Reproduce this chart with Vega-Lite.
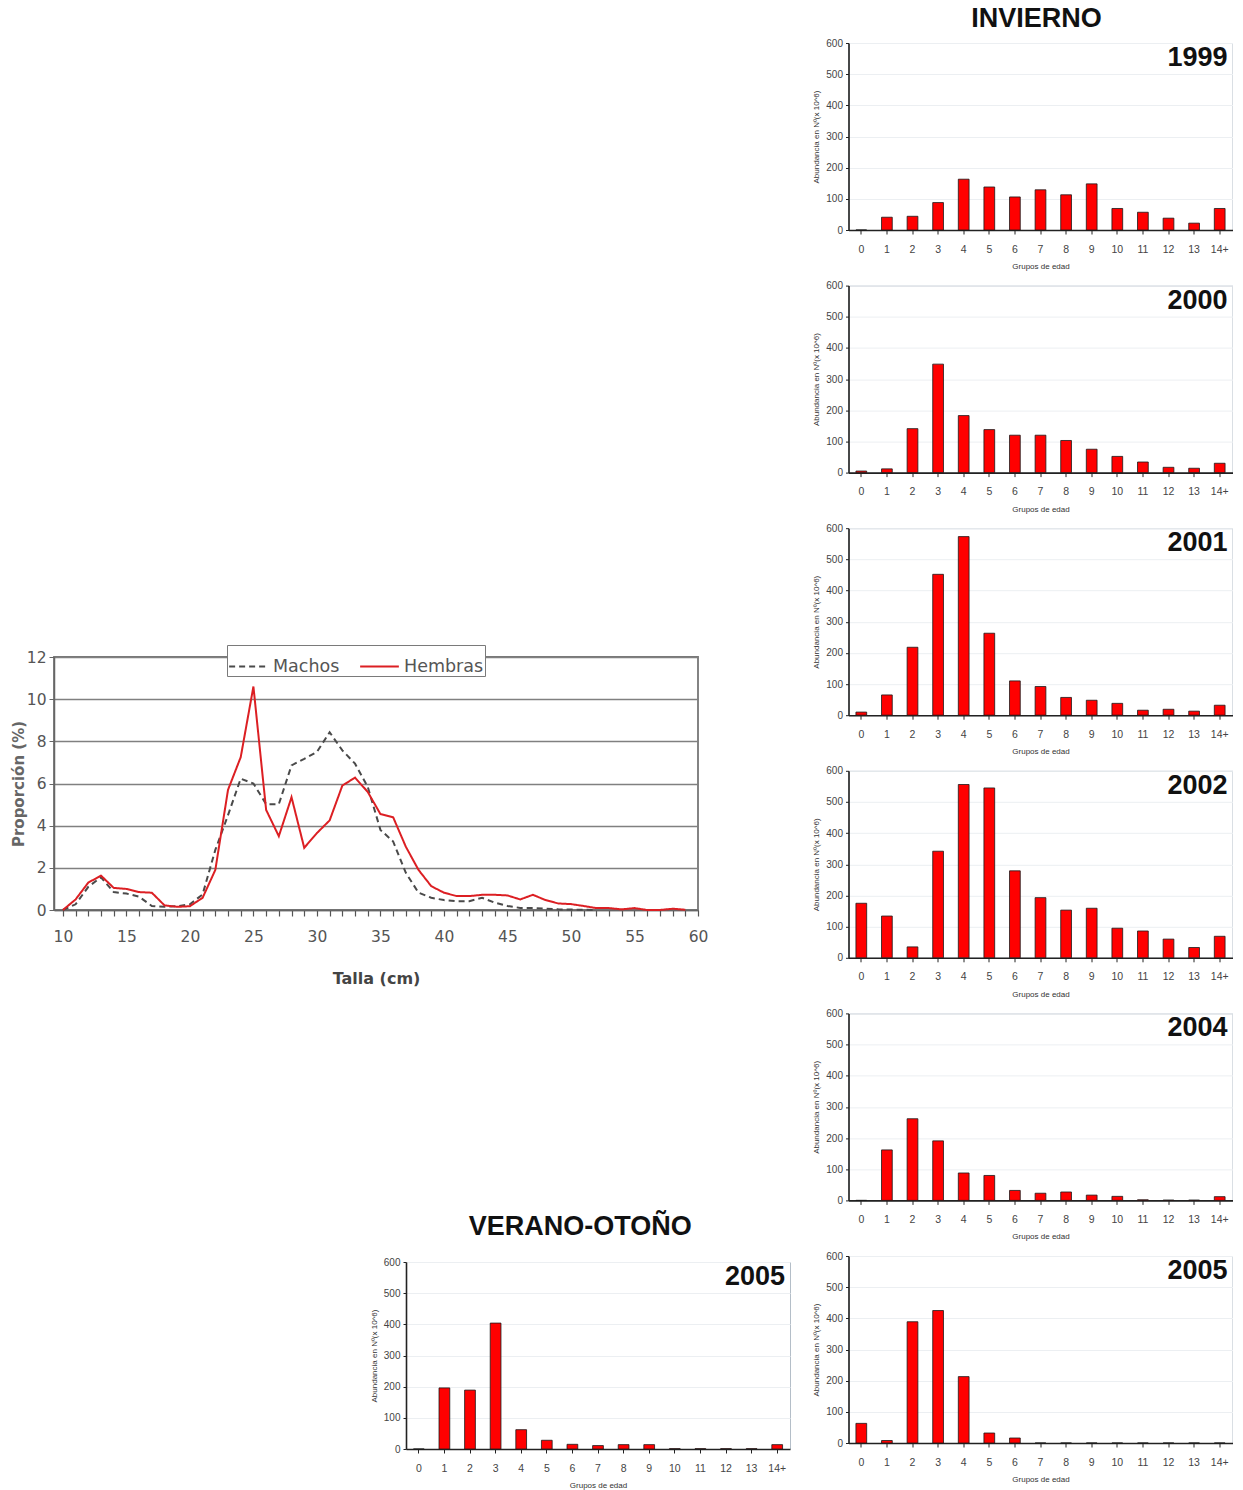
{
  "$schema": "https://vega.github.io/schema/vega-lite/v6.json",
  "background": "white",
  "padding": {"left": 10, "top": 4, "right": 0, "bottom": 0},
  "config": {
    "font": "Liberation Sans",
    "view": {"stroke": "#b4bec8", "strokeWidth": 1},
    "axisY": {"labelFontSize": 10, "labelColor": "#444", "labelOverlap": false, "titleFontSize": 8, "titleFontWeight": "normal", "titleColor": "#333", "grid": true, "gridColor": "#eceff2", "domainColor": "#222", "domainWidth": 1.6, "tickColor": "#222", "tickSize": 3, "labelPadding": 3, "titlePadding": 5},
    "axisX": {"labelFontSize": 10.5, "labelColor": "#444", "labelAngle": 0, "titleFontSize": 8, "titleFontWeight": "normal", "titleColor": "#333", "grid": false, "domainColor": "#222", "domainWidth": 1.6, "tickColor": "#222", "tickSize": 4, "labelPadding": 10, "titlePadding": 8}
  },
  "datasets": {
    "tallas": [
      {"talla": 10, "sexo": "Machos", "p": 0}, {"talla": 11, "sexo": "Machos", "p": 0.27}, {"talla": 12, "sexo": "Machos", "p": 1.1}, {"talla": 13, "sexo": "Machos", "p": 1.55}, {"talla": 14, "sexo": "Machos", "p": 0.85}, {"talla": 15, "sexo": "Machos", "p": 0.78}, {"talla": 16, "sexo": "Machos", "p": 0.63}, {"talla": 17, "sexo": "Machos", "p": 0.19}, {"talla": 18, "sexo": "Machos", "p": 0.15}, {"talla": 19, "sexo": "Machos", "p": 0.18}, {"talla": 20, "sexo": "Machos", "p": 0.27}, {"talla": 21, "sexo": "Machos", "p": 0.74}, {"talla": 22, "sexo": "Machos", "p": 2.85}, {"talla": 23, "sexo": "Machos", "p": 4.5}, {"talla": 24, "sexo": "Machos", "p": 6.23}, {"talla": 25, "sexo": "Machos", "p": 6.0}, {"talla": 26, "sexo": "Machos", "p": 5.02}, {"talla": 27, "sexo": "Machos", "p": 5.02}, {"talla": 28, "sexo": "Machos", "p": 6.86}, {"talla": 29, "sexo": "Machos", "p": 7.17}, {"talla": 30, "sexo": "Machos", "p": 7.5}, {"talla": 31, "sexo": "Machos", "p": 8.43}, {"talla": 32, "sexo": "Machos", "p": 7.57}, {"talla": 33, "sexo": "Machos", "p": 6.94}, {"talla": 34, "sexo": "Machos", "p": 5.84}, {"talla": 35, "sexo": "Machos", "p": 3.8}, {"talla": 36, "sexo": "Machos", "p": 3.25}, {"talla": 37, "sexo": "Machos", "p": 1.76}, {"talla": 38, "sexo": "Machos", "p": 0.82}, {"talla": 39, "sexo": "Machos", "p": 0.58}, {"talla": 40, "sexo": "Machos", "p": 0.47}, {"talla": 41, "sexo": "Machos", "p": 0.42}, {"talla": 42, "sexo": "Machos", "p": 0.42}, {"talla": 43, "sexo": "Machos", "p": 0.58}, {"talla": 44, "sexo": "Machos", "p": 0.35}, {"talla": 45, "sexo": "Machos", "p": 0.19}, {"talla": 46, "sexo": "Machos", "p": 0.1}, {"talla": 47, "sexo": "Machos", "p": 0.1}, {"talla": 48, "sexo": "Machos", "p": 0.06}, {"talla": 49, "sexo": "Machos", "p": 0.03}, {"talla": 50, "sexo": "Machos", "p": 0.02}, {"talla": 51, "sexo": "Machos", "p": 0.01}, {"talla": 52, "sexo": "Machos", "p": 0},
      {"talla": 10, "sexo": "Hembras", "p": 0}, {"talla": 11, "sexo": "Hembras", "p": 0.5}, {"talla": 12, "sexo": "Hembras", "p": 1.3}, {"talla": 13, "sexo": "Hembras", "p": 1.63}, {"talla": 14, "sexo": "Hembras", "p": 1.05}, {"talla": 15, "sexo": "Hembras", "p": 1.0}, {"talla": 16, "sexo": "Hembras", "p": 0.85}, {"talla": 17, "sexo": "Hembras", "p": 0.82}, {"talla": 18, "sexo": "Hembras", "p": 0.22}, {"talla": 19, "sexo": "Hembras", "p": 0.15}, {"talla": 20, "sexo": "Hembras", "p": 0.18}, {"talla": 21, "sexo": "Hembras", "p": 0.58}, {"talla": 22, "sexo": "Hembras", "p": 1.9}, {"talla": 23, "sexo": "Hembras", "p": 5.7}, {"talla": 24, "sexo": "Hembras", "p": 7.25}, {"talla": 25, "sexo": "Hembras", "p": 10.6}, {"talla": 26, "sexo": "Hembras", "p": 4.75}, {"talla": 27, "sexo": "Hembras", "p": 3.5}, {"talla": 28, "sexo": "Hembras", "p": 5.35}, {"talla": 29, "sexo": "Hembras", "p": 2.95}, {"talla": 30, "sexo": "Hembras", "p": 3.65}, {"talla": 31, "sexo": "Hembras", "p": 4.25}, {"talla": 32, "sexo": "Hembras", "p": 5.9}, {"talla": 33, "sexo": "Hembras", "p": 6.28}, {"talla": 34, "sexo": "Hembras", "p": 5.6}, {"talla": 35, "sexo": "Hembras", "p": 4.55}, {"talla": 36, "sexo": "Hembras", "p": 4.4}, {"talla": 37, "sexo": "Hembras", "p": 3.0}, {"talla": 38, "sexo": "Hembras", "p": 1.9}, {"talla": 39, "sexo": "Hembras", "p": 1.13}, {"talla": 40, "sexo": "Hembras", "p": 0.82}, {"talla": 41, "sexo": "Hembras", "p": 0.66}, {"talla": 42, "sexo": "Hembras", "p": 0.66}, {"talla": 43, "sexo": "Hembras", "p": 0.72}, {"talla": 44, "sexo": "Hembras", "p": 0.72}, {"talla": 45, "sexo": "Hembras", "p": 0.69}, {"talla": 46, "sexo": "Hembras", "p": 0.5}, {"talla": 47, "sexo": "Hembras", "p": 0.72}, {"talla": 48, "sexo": "Hembras", "p": 0.47}, {"talla": 49, "sexo": "Hembras", "p": 0.31}, {"talla": 50, "sexo": "Hembras", "p": 0.28}, {"talla": 51, "sexo": "Hembras", "p": 0.19}, {"talla": 52, "sexo": "Hembras", "p": 0.09}, {"talla": 53, "sexo": "Hembras", "p": 0.09}, {"talla": 54, "sexo": "Hembras", "p": 0.03}, {"talla": 55, "sexo": "Hembras", "p": 0.09}, {"talla": 56, "sexo": "Hembras", "p": 0}, {"talla": 57, "sexo": "Hembras", "p": 0}, {"talla": 58, "sexo": "Hembras", "p": 0.06}, {"talla": 59, "sexo": "Hembras", "p": 0.01}
    ],
    "inv1999": [{"edad": "0", "n": 0}, {"edad": "1", "n": 41}, {"edad": "2", "n": 44}, {"edad": "3", "n": 88}, {"edad": "4", "n": 163}, {"edad": "5", "n": 138}, {"edad": "6", "n": 106}, {"edad": "7", "n": 129}, {"edad": "8", "n": 113}, {"edad": "9", "n": 148}, {"edad": "10", "n": 69}, {"edad": "11", "n": 57}, {"edad": "12", "n": 38}, {"edad": "13", "n": 22}, {"edad": "14+", "n": 69}],
    "inv2000": [{"edad": "0", "n": 5}, {"edad": "1", "n": 12}, {"edad": "2", "n": 141}, {"edad": "3", "n": 348}, {"edad": "4", "n": 183}, {"edad": "5", "n": 138}, {"edad": "6", "n": 120}, {"edad": "7", "n": 120}, {"edad": "8", "n": 103}, {"edad": "9", "n": 75}, {"edad": "10", "n": 52}, {"edad": "11", "n": 34}, {"edad": "12", "n": 17}, {"edad": "13", "n": 14}, {"edad": "14+", "n": 30}],
    "inv2001": [{"edad": "0", "n": 10}, {"edad": "1", "n": 65}, {"edad": "2", "n": 218}, {"edad": "3", "n": 452}, {"edad": "4", "n": 573}, {"edad": "5", "n": 263}, {"edad": "6", "n": 110}, {"edad": "7", "n": 92}, {"edad": "8", "n": 57}, {"edad": "9", "n": 48}, {"edad": "10", "n": 38}, {"edad": "11", "n": 16}, {"edad": "12", "n": 19}, {"edad": "13", "n": 13}, {"edad": "14+", "n": 32}],
    "inv2002": [{"edad": "0", "n": 175}, {"edad": "1", "n": 134}, {"edad": "2", "n": 35}, {"edad": "3", "n": 342}, {"edad": "4", "n": 556}, {"edad": "5", "n": 545}, {"edad": "6", "n": 279}, {"edad": "7", "n": 193}, {"edad": "8", "n": 153}, {"edad": "9", "n": 159}, {"edad": "10", "n": 95}, {"edad": "11", "n": 86}, {"edad": "12", "n": 60}, {"edad": "13", "n": 33}, {"edad": "14+", "n": 69}],
    "inv2004": [{"edad": "0", "n": 0}, {"edad": "1", "n": 162}, {"edad": "2", "n": 262}, {"edad": "3", "n": 191}, {"edad": "4", "n": 88}, {"edad": "5", "n": 80}, {"edad": "6", "n": 32}, {"edad": "7", "n": 23}, {"edad": "8", "n": 27}, {"edad": "9", "n": 17}, {"edad": "10", "n": 13}, {"edad": "11", "n": 2}, {"edad": "12", "n": 1}, {"edad": "13", "n": 1}, {"edad": "14+", "n": 12}],
    "inv2005": [{"edad": "0", "n": 63}, {"edad": "1", "n": 8}, {"edad": "2", "n": 389}, {"edad": "3", "n": 425}, {"edad": "4", "n": 213}, {"edad": "5", "n": 32}, {"edad": "6", "n": 16}, {"edad": "7", "n": 0}, {"edad": "8", "n": 0}, {"edad": "9", "n": 0}, {"edad": "10", "n": 0}, {"edad": "11", "n": 0}, {"edad": "12", "n": 0}, {"edad": "13", "n": 0}, {"edad": "14+", "n": 0}],
    "ver2005": [{"edad": "0", "n": 0}, {"edad": "1", "n": 196}, {"edad": "2", "n": 189}, {"edad": "3", "n": 404}, {"edad": "4", "n": 62}, {"edad": "5", "n": 28}, {"edad": "6", "n": 15}, {"edad": "7", "n": 11}, {"edad": "8", "n": 14}, {"edad": "9", "n": 14}, {"edad": "10", "n": 1}, {"edad": "11", "n": 1}, {"edad": "12", "n": 1}, {"edad": "13", "n": 1}, {"edad": "14+", "n": 14}]
  },
  "spacing": 20.5,
  "hconcat": [
    {
      "spacing": 0,
      "vconcat": [
        {"width": 10, "height": 606, "view": {"stroke": null}, "data": {"values": [{}]}, "mark": {"type": "rule", "opacity": 0}, "encoding": {}},
        {
          "width": 644,
          "height": 253,
          "data": {"name": "tallas"},
          "view": {"stroke": "#777777", "strokeWidth": 1.8},
          "mark": {"type": "line", "strokeWidth": 2},
          "encoding": {
            "x": {
              "field": "talla", "type": "quantitative",
              "scale": {"domain": [9.3, 60], "nice": false, "zero": false},
              "axis": {
                "title": "Talla (cm)",
                "values": [10, 11, 12, 13, 14, 15, 16, 17, 18, 19, 20, 21, 22, 23, 24, 25, 26, 27, 28, 29, 30, 31, 32, 33, 34, 35, 36, 37, 38, 39, 40, 41, 42, 43, 44, 45, 46, 47, 48, 49, 50, 51, 52, 53, 54, 55, 56, 57, 58, 59, 60],
                "labelExpr": "datum.value % 5 === 0 ? datum.label : ''",
                "labelOverlap": false, "labelFlush": false,
                "labelFont": "DejaVu Sans", "labelFontSize": 15.5, "labelColor": "#555",
                "labelPadding": 13,
                "tickColor": "#555", "tickSize": 6, "tickWidth": 1.2,
                "domainColor": "#666", "domainWidth": 1.5,
                "grid": false,
                "titleFont": "DejaVu Sans", "titleFontSize": 16, "titleFontWeight": "bold", "titleColor": "#444", "titlePadding": 26
              }
            },
            "y": {
              "field": "p", "type": "quantitative",
              "scale": {"domain": [0, 12], "nice": false},
              "axis": {
                "title": "Proporción (%)",
                "values": [0, 2, 4, 6, 8, 10, 12],
                "grid": true, "gridColor": "#808080", "gridWidth": 1.3,
                "labelFont": "DejaVu Sans", "labelFontSize": 15.5, "labelColor": "#555", "labelPadding": 3,
                "tickColor": "#666", "tickSize": 5,
                "domainColor": "#666", "domainWidth": 1.5,
                "titleFont": "DejaVu Sans", "titleFontSize": 15, "titleFontWeight": "bold", "titleColor": "#666", "titlePadding": 0
              }
            },
            "color": {
              "field": "sexo", "type": "nominal",
              "scale": {"domain": ["Machos", "Hembras"], "range": ["#4a4a4a", "#dc1f23"]},
              "legend": {
                "title": null, "orient": "none", "legendX": 173, "legendY": 602, "direction": "horizontal",
                "strokeColor": "#7a7a7a", "fillColor": "white", "padding": 1,
                "labelFont": "DejaVu Sans", "labelFontSize": 17.5, "labelColor": "#555",
                "symbolType": "stroke", "symbolSize": 1500, "symbolStrokeWidth": 2, "columnPadding": 16, "labelOffset": 4
              }
            },
            "strokeDash": {
              "field": "sexo", "type": "nominal",
              "scale": {"domain": ["Machos", "Hembras"], "range": [[6, 4], [1, 0]]},
              "legend": {
                "title": null, "orient": "none", "legendX": 173, "legendY": 602, "direction": "horizontal",
                "strokeColor": "#7a7a7a", "fillColor": "white", "padding": 1,
                "labelFont": "DejaVu Sans", "labelFontSize": 17.5, "labelColor": "#555",
                "symbolType": "stroke", "symbolSize": 1500, "symbolStrokeWidth": 2, "columnPadding": 16, "labelOffset": 4
              }
            }
          }
        },
        {"width": 10, "height": 223, "view": {"stroke": null}, "data": {"values": [{}]}, "mark": {"type": "rule", "opacity": 0}, "encoding": {}},
        {
          "spacing": 0,
          "hconcat": [
            {"width": 315, "height": 10, "view": {"stroke": null}, "data": {"values": [{}]}, "mark": {"type": "rule", "opacity": 0}, "encoding": {}},
            {
              "width": 384, "height": 187,
              "data": {"name": "ver2005"},
              "title": {"text": "VERANO-OTOÑO", "fontSize": 27, "fontWeight": "bold", "color": "#111", "anchor": "middle", "frame": "bounds", "offset": 16},
              "layer": [
                {"mark": {"type": "bar", "color": "#ff0000", "stroke": "#1a1a1a", "strokeWidth": 0.8, "width": {"band": 0.42}},
                 "encoding": {
                   "x": {"field": "edad", "type": "ordinal", "title": "Grupos de edad", "scale": {"domain": ["0", "1", "2", "3", "4", "5", "6", "7", "8", "9", "10", "11", "12", "13", "14+"], "paddingInner": 0, "paddingOuter": 0}},
                   "y": {"field": "n", "type": "quantitative", "title": "Abundancia en Nº(x 10^6)", "scale": {"domain": [0, 600], "nice": false}, "axis": {"values": [0, 100, 200, 300, 400, 500, 600]}}
                 }},
                {"data": {"values": [{"anio": "2005"}]},
                 "mark": {"type": "text", "fontSize": 27, "fontWeight": "bold", "color": "#111", "align": "right", "baseline": "top", "dx": -5, "dy": 2},
                 "encoding": {"text": {"field": "anio"}, "x": {"datum": "14+", "type": "ordinal", "bandPosition": 1, "title": "Grupos de edad"}, "y": {"datum": 600, "type": "quantitative", "title": "Abundancia en Nº(x 10^6)", "axis": {"values": [0, 100, 200, 300, 400, 500, 600]}}}}
              ]
            }
          ]
        }
      ]
    },
    {
      "spacing": 55.6,
      "bounds": "flush",
      "title": {"text": "INVIERNO", "fontSize": 27, "fontWeight": "bold", "color": "#111", "anchor": "middle", "frame": "group", "dx": 188, "offset": 5},
      "vconcat": [
        {
          "width": 384, "height": 187,
          "data": {"name": "inv1999"},
          "layer": [
            {"mark": {"type": "bar", "color": "#ff0000", "stroke": "#1a1a1a", "strokeWidth": 0.8, "width": {"band": 0.42}},
             "encoding": {
               "x": {"field": "edad", "type": "ordinal", "title": "Grupos de edad", "scale": {"domain": ["0", "1", "2", "3", "4", "5", "6", "7", "8", "9", "10", "11", "12", "13", "14+"], "paddingInner": 0, "paddingOuter": 0}},
               "y": {"field": "n", "type": "quantitative", "title": "Abundancia en Nº(x 10^6)", "scale": {"domain": [0, 600], "nice": false}, "axis": {"values": [0, 100, 200, 300, 400, 500, 600]}}
             }},
            {"data": {"values": [{"anio": "1999"}]},
             "mark": {"type": "text", "fontSize": 27, "fontWeight": "bold", "color": "#111", "align": "right", "baseline": "top", "dx": -5, "dy": 2},
             "encoding": {"text": {"field": "anio"}, "x": {"datum": "14+", "type": "ordinal", "bandPosition": 1, "title": "Grupos de edad"}, "y": {"datum": 600, "type": "quantitative", "title": "Abundancia en Nº(x 10^6)", "axis": {"values": [0, 100, 200, 300, 400, 500, 600]}}}}
          ]
        },
        {
          "width": 384, "height": 187,
          "data": {"name": "inv2000"},
          "layer": [
            {"mark": {"type": "bar", "color": "#ff0000", "stroke": "#1a1a1a", "strokeWidth": 0.8, "width": {"band": 0.42}},
             "encoding": {
               "x": {"field": "edad", "type": "ordinal", "title": "Grupos de edad", "scale": {"domain": ["0", "1", "2", "3", "4", "5", "6", "7", "8", "9", "10", "11", "12", "13", "14+"], "paddingInner": 0, "paddingOuter": 0}},
               "y": {"field": "n", "type": "quantitative", "title": "Abundancia en Nº(x 10^6)", "scale": {"domain": [0, 600], "nice": false}, "axis": {"values": [0, 100, 200, 300, 400, 500, 600]}}
             }},
            {"data": {"values": [{"anio": "2000"}]},
             "mark": {"type": "text", "fontSize": 27, "fontWeight": "bold", "color": "#111", "align": "right", "baseline": "top", "dx": -5, "dy": 2},
             "encoding": {"text": {"field": "anio"}, "x": {"datum": "14+", "type": "ordinal", "bandPosition": 1, "title": "Grupos de edad"}, "y": {"datum": 600, "type": "quantitative", "title": "Abundancia en Nº(x 10^6)", "axis": {"values": [0, 100, 200, 300, 400, 500, 600]}}}}
          ]
        },
        {
          "width": 384, "height": 187,
          "data": {"name": "inv2001"},
          "layer": [
            {"mark": {"type": "bar", "color": "#ff0000", "stroke": "#1a1a1a", "strokeWidth": 0.8, "width": {"band": 0.42}},
             "encoding": {
               "x": {"field": "edad", "type": "ordinal", "title": "Grupos de edad", "scale": {"domain": ["0", "1", "2", "3", "4", "5", "6", "7", "8", "9", "10", "11", "12", "13", "14+"], "paddingInner": 0, "paddingOuter": 0}},
               "y": {"field": "n", "type": "quantitative", "title": "Abundancia en Nº(x 10^6)", "scale": {"domain": [0, 600], "nice": false}, "axis": {"values": [0, 100, 200, 300, 400, 500, 600]}}
             }},
            {"data": {"values": [{"anio": "2001"}]},
             "mark": {"type": "text", "fontSize": 27, "fontWeight": "bold", "color": "#111", "align": "right", "baseline": "top", "dx": -5, "dy": 2},
             "encoding": {"text": {"field": "anio"}, "x": {"datum": "14+", "type": "ordinal", "bandPosition": 1, "title": "Grupos de edad"}, "y": {"datum": 600, "type": "quantitative", "title": "Abundancia en Nº(x 10^6)", "axis": {"values": [0, 100, 200, 300, 400, 500, 600]}}}}
          ]
        },
        {
          "width": 384, "height": 187,
          "data": {"name": "inv2002"},
          "layer": [
            {"mark": {"type": "bar", "color": "#ff0000", "stroke": "#1a1a1a", "strokeWidth": 0.8, "width": {"band": 0.42}},
             "encoding": {
               "x": {"field": "edad", "type": "ordinal", "title": "Grupos de edad", "scale": {"domain": ["0", "1", "2", "3", "4", "5", "6", "7", "8", "9", "10", "11", "12", "13", "14+"], "paddingInner": 0, "paddingOuter": 0}},
               "y": {"field": "n", "type": "quantitative", "title": "Abundancia en Nº(x 10^6)", "scale": {"domain": [0, 600], "nice": false}, "axis": {"values": [0, 100, 200, 300, 400, 500, 600]}}
             }},
            {"data": {"values": [{"anio": "2002"}]},
             "mark": {"type": "text", "fontSize": 27, "fontWeight": "bold", "color": "#111", "align": "right", "baseline": "top", "dx": -5, "dy": 2},
             "encoding": {"text": {"field": "anio"}, "x": {"datum": "14+", "type": "ordinal", "bandPosition": 1, "title": "Grupos de edad"}, "y": {"datum": 600, "type": "quantitative", "title": "Abundancia en Nº(x 10^6)", "axis": {"values": [0, 100, 200, 300, 400, 500, 600]}}}}
          ]
        },
        {
          "width": 384, "height": 187,
          "data": {"name": "inv2004"},
          "layer": [
            {"mark": {"type": "bar", "color": "#ff0000", "stroke": "#1a1a1a", "strokeWidth": 0.8, "width": {"band": 0.42}},
             "encoding": {
               "x": {"field": "edad", "type": "ordinal", "title": "Grupos de edad", "scale": {"domain": ["0", "1", "2", "3", "4", "5", "6", "7", "8", "9", "10", "11", "12", "13", "14+"], "paddingInner": 0, "paddingOuter": 0}},
               "y": {"field": "n", "type": "quantitative", "title": "Abundancia en Nº(x 10^6)", "scale": {"domain": [0, 600], "nice": false}, "axis": {"values": [0, 100, 200, 300, 400, 500, 600]}}
             }},
            {"data": {"values": [{"anio": "2004"}]},
             "mark": {"type": "text", "fontSize": 27, "fontWeight": "bold", "color": "#111", "align": "right", "baseline": "top", "dx": -5, "dy": 2},
             "encoding": {"text": {"field": "anio"}, "x": {"datum": "14+", "type": "ordinal", "bandPosition": 1, "title": "Grupos de edad"}, "y": {"datum": 600, "type": "quantitative", "title": "Abundancia en Nº(x 10^6)", "axis": {"values": [0, 100, 200, 300, 400, 500, 600]}}}}
          ]
        },
        {
          "width": 384, "height": 187,
          "data": {"name": "inv2005"},
          "layer": [
            {"mark": {"type": "bar", "color": "#ff0000", "stroke": "#1a1a1a", "strokeWidth": 0.8, "width": {"band": 0.42}},
             "encoding": {
               "x": {"field": "edad", "type": "ordinal", "title": "Grupos de edad", "scale": {"domain": ["0", "1", "2", "3", "4", "5", "6", "7", "8", "9", "10", "11", "12", "13", "14+"], "paddingInner": 0, "paddingOuter": 0}},
               "y": {"field": "n", "type": "quantitative", "title": "Abundancia en Nº(x 10^6)", "scale": {"domain": [0, 600], "nice": false}, "axis": {"values": [0, 100, 200, 300, 400, 500, 600]}}
             }},
            {"data": {"values": [{"anio": "2005"}]},
             "mark": {"type": "text", "fontSize": 27, "fontWeight": "bold", "color": "#111", "align": "right", "baseline": "top", "dx": -5, "dy": 2},
             "encoding": {"text": {"field": "anio"}, "x": {"datum": "14+", "type": "ordinal", "bandPosition": 1, "title": "Grupos de edad"}, "y": {"datum": 600, "type": "quantitative", "title": "Abundancia en Nº(x 10^6)", "axis": {"values": [0, 100, 200, 300, 400, 500, 600]}}}}
          ]
        }
      ]
    }
  ]
}
